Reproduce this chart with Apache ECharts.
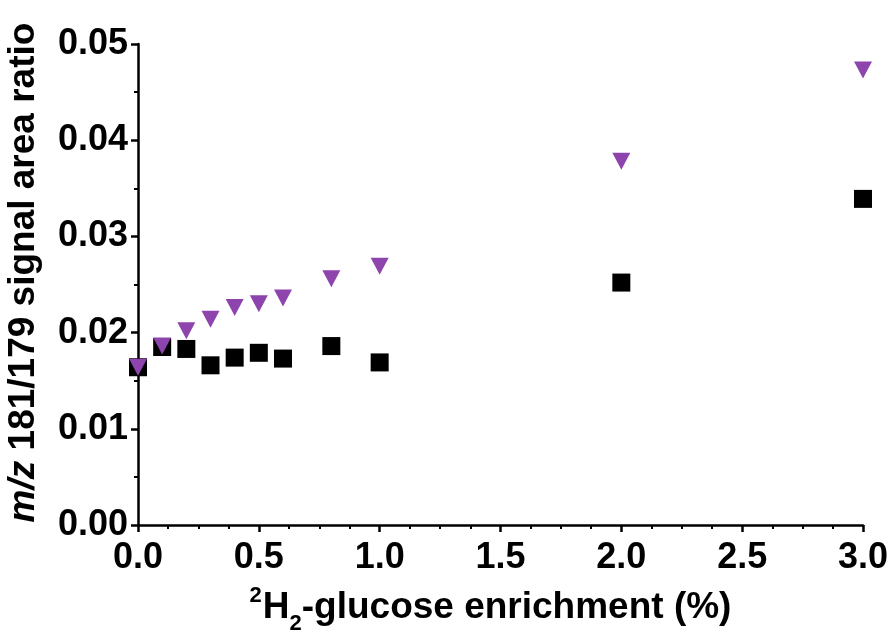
<!DOCTYPE html>
<html>
<head>
<meta charset="utf-8">
<script src="https://cdn.jsdelivr.net/npm/echarts@6/dist/echarts.min.js"></script>
<style>html,body{margin:0;padding:0;background:#fff}#c{width:890px;height:634px}</style>
</head>
<body>
<div id="c"></div>
<script>
const enrichment = [0, 0.1, 0.2, 0.3, 0.4, 0.5, 0.6, 0.8, 1.0, 2.0, 3.0];
const squareValues = [0.0164, 0.0185, 0.0183, 0.0166, 0.0174, 0.0179, 0.0173, 0.0186, 0.0169, 0.0252, 0.0339];
const triangleValues = [0.0164, 0.0186, 0.0202, 0.0214, 0.0226, 0.0230, 0.0236, 0.0256, 0.0269, 0.0378, 0.0473];
const xTickDigits = 1;
const yTickDigits = 2;

const FONT = "'Liberation Sans', Arial, Helvetica, sans-serif";
const chart = echarts.init(document.getElementById('c'), null, {renderer: 'canvas'});
const pair = (vals) => enrichment.map((x, i) => [x, vals[i]]);

chart.setOption({
  animation: false,
  backgroundColor: '#fff',
  grid: {left: 138, right: 27, top: 44, bottom: 109, containLabel: false, outerBoundsMode: 'none'},
  xAxis: {
    type: 'value', min: 0, max: 3, interval: 0.5,
    name: '{sup|2}{b|H}{sub|2}{b|-glucose enrichment (%)}',
    nameLocation: 'middle', nameGap: 61,
    nameTextStyle: {
      padding: [0, 20, 0, 0],
      rich: {
        b: {fontFamily: FONT, fontWeight: 'bold', fontSize: 37, lineHeight: 44, color: '#000'},
        sup: {fontFamily: FONT, fontWeight: 'bold', fontSize: 22, lineHeight: 44, color: '#000', padding: [0, 1, 24, 0]},
        sub: {fontFamily: FONT, fontWeight: 'bold', fontSize: 22, lineHeight: 44, color: '#000', padding: [32, 0, 0, 0]}
      }
    },
    axisLine: {show: true, onZero: false, lineStyle: {color: '#000', width: 2.5}},
    axisTick: {show: true, length: 7, lineStyle: {color: '#000', width: 2.5}},
    minorTick: {show: true, splitNumber: 4, length: 4, lineStyle: {color: '#000', width: 2}},
    splitLine: {show: false},
    axisLabel: {margin: 15, fontFamily: FONT, fontWeight: 'bold', fontSize: 36, color: '#000',
      formatter: v => v.toFixed(xTickDigits)}
  },
  yAxis: {
    type: 'value', min: 0, max: 0.05, interval: 0.01,
    name: '{i|m/z}{b| 181/179 signal area ratio}',
    nameLocation: 'middle', nameGap: 96, nameRotate: 90,
    nameTextStyle: {
      padding: [0, 0, 0, 24],
      rich: {
        b: {fontFamily: FONT, fontWeight: 'bold', fontSize: 37, color: '#000'},
        i: {fontFamily: FONT, fontWeight: 'bold', fontStyle: 'italic', fontSize: 37, color: '#000'}
      }
    },
    axisLine: {show: true, onZero: false, lineStyle: {color: '#000', width: 2.5}},
    axisTick: {show: true, length: 7, lineStyle: {color: '#000', width: 2.5}},
    minorTick: {show: true, splitNumber: 2, length: 4, lineStyle: {color: '#000', width: 2}},
    splitLine: {show: false},
    axisLabel: {margin: 10, fontFamily: FONT, fontWeight: 'bold', fontSize: 36, color: '#000',
      formatter: v => v.toFixed(yTickDigits)}
  },
  series: [
    {
      type: 'scatter', data: pair(squareValues), symbol: 'rect', symbolSize: 18,
      itemStyle: {color: '#000', opacity: 1}, z: 2
    },
    {
      type: 'scatter', data: pair(triangleValues), symbol: 'triangle', symbolRotate: 180,
      symbolSize: [18, 17], itemStyle: {color: '#8E44AD', opacity: 1}, z: 3
    }
  ]
});
</script>
</body>
</html>
